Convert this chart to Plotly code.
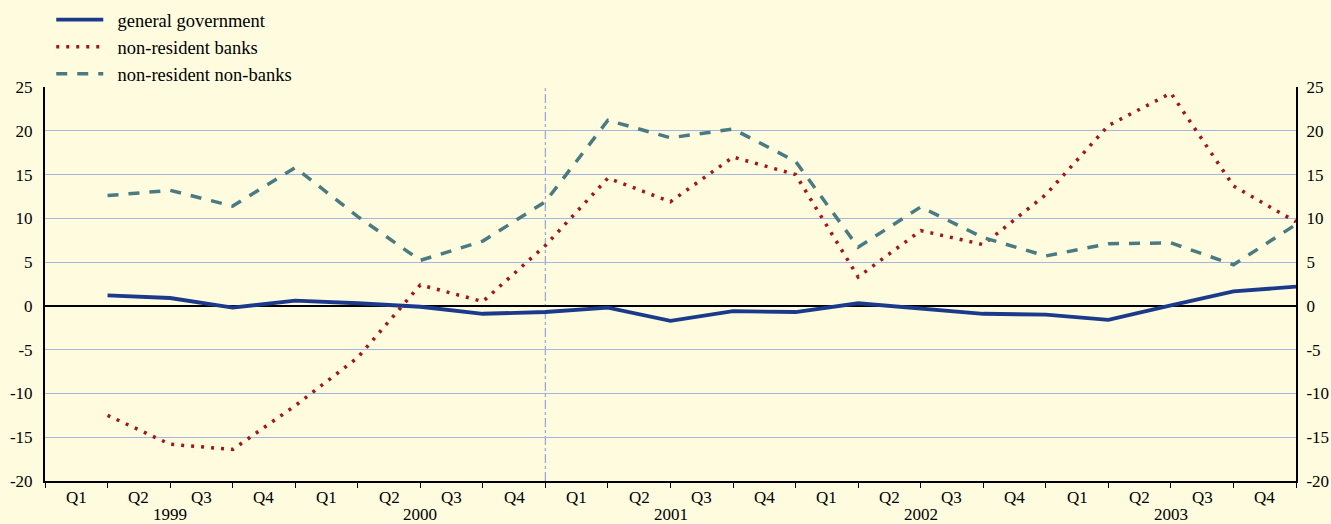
import plotly.graph_objs as go

# quarter index: 1 = end of 1999 Q1 ... 20 = end of 2003 Q4
quarters = list(range(1, 21))
general_government = [1.2, 0.9, -0.2, 0.6, 0.3, -0.1, -0.9, -0.7, -0.2, -1.7,
                      -0.6, -0.7, 0.3, -0.35, -0.9, -1.0, -1.6, 0.05, 1.65, 2.2]
non_resident_banks = [-12.5, -15.8, -16.4, -11.4, -5.9, 2.4, 0.5, 6.9, 14.6, 11.9,
                      17.0, 15.0, 3.3, 8.6, 7.0, 12.7, 20.6, 24.3, 13.7, 9.6]
non_resident_non_banks = [12.6, 13.2, 11.4, 15.8, 10.2, 5.2, 7.4, 11.9, 21.2, 19.2,
                          20.2, 16.5, 6.7, 11.3, 7.8, 5.7, 7.1, 7.2, 4.7, 9.3]

quarter_labels = ['Q1', 'Q2', 'Q3', 'Q4'] * 5
years = ['1999', '2000', '2001', '2002', '2003']
y_ticks = [-20, -15, -10, -5, 0, 5, 10, 15, 20, 25]
y_ticktext = [str(v) for v in y_ticks]  # plain hyphen minus, as in the original

font = dict(family='Liberation Serif, Times New Roman, serif', size=17, color='black')
legend_font = dict(font, size=18.5)
bg = '#FEFBDF'
pad = '\u00a0\u00a0'  # gap between legend line and its text

fig = go.Figure()
fig.add_trace(go.Scatter(x=quarters, y=general_government, mode='lines',
                         name=pad + 'general government', legendgroup='a',
                         line=dict(color='#1B3A8C', width=3.8)))
fig.add_trace(go.Scatter(x=quarters, y=non_resident_banks, mode='lines',
                         name=pad + 'non-resident banks', legendgroup='b',
                         line=dict(color='#A3161A', width=3.5, dash='3px,7px')))
fig.add_trace(go.Scatter(x=quarters, y=non_resident_non_banks, mode='lines',
                         name=pad + 'non-resident non-banks', legendgroup='c',
                         line=dict(color='#4B7B82', width=3.5, dash='11px,10px')))
# invisible trace to carry the right-hand axis
fig.add_trace(go.Scatter(x=[quarters[0]], y=[0], yaxis='y2', mode='markers',
                         marker=dict(opacity=0), showlegend=False, hoverinfo='skip'))

# year separator
fig.add_shape(type='line', xref='x', yref='paper', x0=8, x1=8, y0=0, y1=1,
              line=dict(color='#98A9DA', width=1.3, dash='dashdot'), layer='below')

# x labels: quarters and years
for i, q in enumerate(quarter_labels):
    fig.add_annotation(x=i + 0.5, y=0, xref='x', yref='paper', text=q,
                       showarrow=False, yanchor='top', yshift=-5, font=font)
for i, yr in enumerate(years):
    fig.add_annotation(x=4 * i + 2, y=0, xref='x', yref='paper', text=yr,
                       showarrow=False, yanchor='top', yshift=-22, font=font)

fig.update_layout(
    width=1331, height=524,
    paper_bgcolor=bg, plot_bgcolor=bg,
    margin=dict(l=45, r=35, t=87, b=43, autoexpand=False),
    font=font,
    showlegend=True,
    legend=dict(x=0.005, y=1.218, xanchor='left', yanchor='top',
                bgcolor='rgba(0,0,0,0)', tracegroupgap=0, font=legend_font,
                itemwidth=47),
    xaxis=dict(range=[0, 20], showgrid=False, zeroline=False, automargin=False,
               showline=True, linecolor='black', linewidth=2,
               tickmode='array', tickvals=[0, 4, 8, 12, 16, 20],
               ticktext=[''] * 6, ticks='outside', ticklen=9, tickwidth=1.5,
               tickcolor='black',
               minor=dict(tickvals=list(range(21)), ticks='outside',
                          ticklen=5, tickwidth=1, tickcolor='black')),
    yaxis=dict(range=[-20, 25], tickmode='array', tickvals=y_ticks,
               ticktext=y_ticktext, automargin=False,
               showgrid=True, gridcolor='#A7B6E0', gridwidth=1,
               zeroline=True, zerolinecolor='black', zerolinewidth=2,
               showline=True, linecolor='black', linewidth=2,
               ticks='', ticklabelstandoff=7),
    yaxis2=dict(range=[-20, 25], tickmode='array', tickvals=y_ticks,
                ticktext=y_ticktext, automargin=False,
                overlaying='y', side='right', showgrid=False, zeroline=False,
                showline=True, linecolor='black', linewidth=2,
                ticks='', ticklabelstandoff=5),
)

# drop the default page margin so the figure fills the window
fig.write_html('out.html', config={'displayModeBar': False},
               post_script="document.body.style.margin='0';")
